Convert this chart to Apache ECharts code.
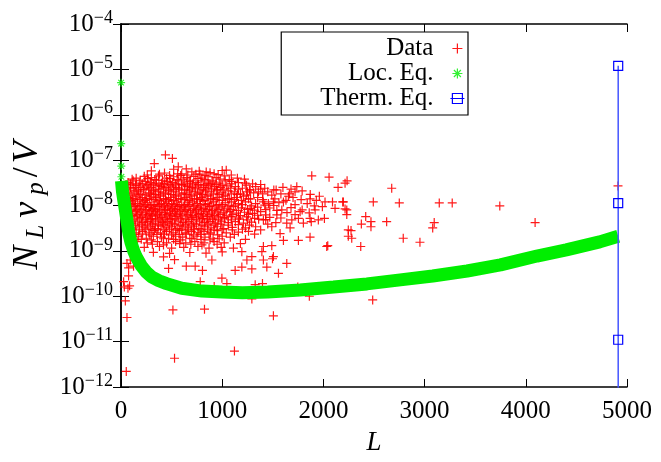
<!DOCTYPE html>
<html>
<head>
<meta charset="utf-8">
<script src="https://cdn.jsdelivr.net/npm/echarts@6/dist/echarts.min.js"></script>
<style>
html, body { margin: 0; padding: 0; background: #fff; }
#chart { width: 661px; height: 462px; }
</style>
</head>
<body>
<div id="chart"></div>
<script>
var xTicks = [0, 1000, 2000, 3000, 4000, 5000];
var yExponents = [-12, -11, -10, -9, -8, -7, -6, -5, -4];

// dense cloud of measured points, read row by row
var dataCore = [
	[300,5.8e-8],[430,5.2e-8],[520,6.3e-8],[600,5.0e-8],[700,5.5e-8],[780,4.9e-8],[880,5.3e-8],[960,4.8e-8],[1000,5.9e-8],
	[150,4.0e-8],[230,4.4e-8],[300,4.1e-8],[370,4.5e-8],[450,4.0e-8],[520,4.3e-8],[590,4.6e-8],[650,4.1e-8],[720,4.4e-8],[800,4.0e-8],[860,4.3e-8],[940,4.1e-8],[1020,4.5e-8],[1150,4.0e-8],
	[70,3.2e-8],[120,3.5e-8],[180,3.1e-8],[240,3.4e-8],[290,3.2e-8],[350,3.6e-8],[400,3.1e-8],[460,3.4e-8],[510,3.2e-8],[570,3.5e-8],[630,3.1e-8],[680,3.4e-8],[740,3.2e-8],[790,3.5e-8],[850,3.1e-8],[910,3.3e-8],[970,3.1e-8],[1030,3.5e-8],[1160,3.2e-8],[1300,3.0e-8],
	[45,2.7e-8],[95,2.5e-8],[145,2.8e-8],[195,2.5e-8],[250,2.7e-8],[300,2.5e-8],[345,2.8e-8],[395,2.6e-8],[445,2.5e-8],[495,2.7e-8],[545,2.5e-8],[600,2.8e-8],[655,2.6e-8],[705,2.5e-8],[760,2.7e-8],[815,2.5e-8],[865,2.8e-8],[925,2.6e-8],[985,2.5e-8],[1045,2.7e-8],[1130,2.6e-8],[1200,2.4e-8],[1330,2.6e-8],[1420,2.4e-8],[1600,2.5e-8],
	[35,2.1e-8],[80,1.9e-8],[130,2.1e-8],[175,2.0e-8],[225,2.2e-8],[275,1.9e-8],[320,2.1e-8],[370,2.0e-8],[420,1.9e-8],[470,2.1e-8],[520,2.0e-8],[575,2.2e-8],[625,1.9e-8],[675,2.1e-8],[730,2.0e-8],[780,1.9e-8],[835,2.1e-8],[890,2.0e-8],[945,2.2e-8],[1000,1.9e-8],[1060,2.1e-8],[1120,2.0e-8],[1180,1.8e-8],[1250,2.0e-8],[1310,1.9e-8],[1450,2.0e-8],[1580,1.8e-8],[1790,2.1e-8],
	[30,1.6e-8],[70,1.5e-8],[115,1.4e-8],[160,1.6e-8],[210,1.5e-8],[255,1.4e-8],[300,1.6e-8],[345,1.5e-8],[390,1.6e-8],[440,1.4e-8],[490,1.5e-8],[540,1.6e-8],[590,1.4e-8],[640,1.5e-8],[690,1.6e-8],[745,1.4e-8],[795,1.5e-8],[850,1.6e-8],[900,1.4e-8],[955,1.5e-8],[1010,1.6e-8],[1070,1.4e-8],[1140,1.5e-8],[1210,1.6e-8],[1280,1.4e-8],[1350,1.5e-8],[1520,1.4e-8],[1700,1.5e-8],[1960,1.6e-8],
	[30,1.2e-8],[75,1.1e-8],[120,1.25e-8],[165,1.1e-8],[215,1.2e-8],[260,1.15e-8],[305,1.05e-8],[355,1.2e-8],[400,1.1e-8],[450,1.25e-8],[500,1.1e-8],[550,1.2e-8],[600,1.05e-8],[655,1.15e-8],[705,1.2e-8],[755,1.1e-8],[810,1.25e-8],[860,1.1e-8],[915,1.2e-8],[970,1.05e-8],[1030,1.15e-8],[1090,1.2e-8],[1160,1.1e-8],[1230,1.2e-8],[1330,1.1e-8],[1560,1.15e-8],[1840,1.1e-8],[2090,1.2e-8],
	[35,9.5e-9],[85,8.8e-9],[130,9.6e-9],[180,8.7e-9],[225,9.4e-9],[275,9.0e-9],[320,8.6e-9],[365,9.5e-9],[415,8.8e-9],[460,9.3e-9],[510,8.6e-9],[560,9.4e-9],[615,8.9e-9],[665,9.6e-9],[715,8.7e-9],[770,9.2e-9],[820,8.6e-9],[875,9.5e-9],[930,8.8e-9],[990,9.3e-9],[1050,8.7e-9],[1110,9.4e-9],[1190,8.9e-9],[1350,9.2e-9],[1470,8.8e-9],[1680,9.0e-9],[1990,9.4e-9],
	[40,7.3e-9],[90,6.8e-9],[140,7.4e-9],[190,6.9e-9],[240,7.2e-9],[285,6.7e-9],[335,7.4e-9],[380,6.9e-9],[430,7.1e-9],[480,6.7e-9],[530,7.3e-9],[580,6.8e-9],[630,7.4e-9],[685,6.9e-9],[735,7.2e-9],[790,6.7e-9],[840,7.3e-9],[895,6.8e-9],[950,7.2e-9],[1010,6.9e-9],[1075,7.3e-9],[1140,6.8e-9],[1220,7.1e-9],[1300,6.7e-9],[1380,7.3e-9],[1640,7.0e-9],[1860,6.9e-9],
	[45,5.7e-9],[100,5.3e-9],[150,5.8e-9],[200,5.4e-9],[250,5.6e-9],[300,5.2e-9],[345,5.8e-9],[395,5.4e-9],[445,5.6e-9],[495,5.2e-9],[545,5.7e-9],[595,5.3e-9],[650,5.8e-9],[700,5.4e-9],[750,5.6e-9],[805,5.2e-9],[855,5.7e-9],[910,5.3e-9],[965,5.6e-9],[1025,5.4e-9],[1090,5.7e-9],[1160,5.3e-9],[1240,5.6e-9],[1320,5.2e-9],[1470,5.5e-9],[1580,5.3e-9],
	[55,4.4e-9],[110,4.1e-9],[165,4.5e-9],[215,4.2e-9],[265,4.4e-9],[315,4.1e-9],[365,4.5e-9],[410,4.2e-9],[460,4.4e-9],[510,4.1e-9],[565,4.5e-9],[615,4.2e-9],[670,4.4e-9],[720,4.1e-9],[775,4.5e-9],[825,4.2e-9],[880,4.4e-9],[935,4.1e-9],[995,4.5e-9],[1060,4.2e-9],[1130,4.4e-9],[1210,4.1e-9],[1290,4.3e-9],[1530,4.2e-9],[1880,4.4e-9],
	[65,3.4e-9],[125,3.2e-9],[180,3.5e-9],[235,3.2e-9],[290,3.4e-9],[340,3.1e-9],[395,3.5e-9],[445,3.2e-9],[500,3.4e-9],[555,3.1e-9],[610,3.5e-9],[660,3.2e-9],[715,3.4e-9],[770,3.1e-9],[830,3.5e-9],[890,3.2e-9],[950,3.4e-9],[1015,3.1e-9],[1100,3.3e-9],[1230,3.2e-9],[1330,3.4e-9],
	[80,2.7e-9],[150,2.5e-9],[215,2.7e-9],[275,2.5e-9],[330,2.8e-9],[390,2.5e-9],[450,2.7e-9],[515,2.5e-9],[575,2.8e-9],[635,2.5e-9],[695,2.7e-9],[760,2.5e-9],[820,2.7e-9],[885,2.5e-9],[950,2.8e-9],[1040,2.5e-9],[1160,2.6e-9],[1260,2.7e-9],
	[100,2.0e-9],[175,2.1e-9],[250,1.9e-9],[320,2.1e-9],[400,2.0e-9],[470,1.9e-9],[540,2.1e-9],[610,2.0e-9],[680,1.9e-9],[750,2.1e-9],[830,2.0e-9],[910,1.9e-9],[1000,2.1e-9],[1080,2.0e-9],
	[160,1.6e-9],[260,1.5e-9],[360,1.6e-9],[450,1.5e-9],[540,1.6e-9],[640,1.5e-9],[730,1.6e-9],[820,1.5e-9],[920,1.6e-9],[1020,1.5e-9],
	[230,1.2e-9],[380,1.25e-9],[500,1.15e-9],[620,1.2e-9],[760,1.25e-9],[870,1.15e-9],[990,1.2e-9],
	[320,9.3e-10],[480,8.8e-10],[680,9.2e-10],[840,8.9e-10],[1000,9.5e-10]
];

// in-between rows of the same cloud
var dataCoreMid = [
	[260,4.7e-8],[380,4.9e-8],[480,4.6e-8],[560,5.0e-8],[660,4.7e-8],[740,4.9e-8],[830,4.6e-8],[920,5.0e-8],[1090,4.7e-8],
	[110,3.8e-8],[190,3.6e-8],[265,3.9e-8],[335,3.7e-8],[410,3.6e-8],[485,3.9e-8],[555,3.7e-8],[620,3.8e-8],[685,3.6e-8],[760,3.9e-8],[830,3.7e-8],[900,3.6e-8],[980,3.8e-8],[1070,3.7e-8],[1220,3.8e-8],
	[50,2.9e-8],[95,3.0e-8],[150,2.8e-8],[210,3.0e-8],[265,2.9e-8],[320,3.0e-8],[375,2.8e-8],[430,3.0e-8],[485,2.9e-8],[540,3.0e-8],[600,2.9e-8],[655,2.8e-8],[710,3.0e-8],[765,2.9e-8],[820,2.8e-8],[880,3.0e-8],[940,2.9e-8],[1000,2.8e-8],[1090,3.0e-8],[1240,2.8e-8],[1380,2.9e-8],
	[60,2.3e-8],[120,2.4e-8],[170,2.2e-8],[225,2.3e-8],[275,2.4e-8],[325,2.2e-8],[375,2.3e-8],[420,2.4e-8],[470,2.2e-8],[520,2.3e-8],[570,2.4e-8],[630,2.2e-8],[680,2.3e-8],[735,2.4e-8],[790,2.2e-8],[840,2.3e-8],[895,2.4e-8],[955,2.2e-8],[1015,2.3e-8],[1080,2.4e-8],[1160,2.3e-8],[1270,2.2e-8],[1380,2.3e-8],[1510,2.2e-8],[1680,2.3e-8],
	[50,1.8e-8],[100,1.7e-8],[150,1.8e-8],[195,1.75e-8],[245,1.7e-8],[290,1.8e-8],[340,1.75e-8],[390,1.7e-8],[440,1.8e-8],[495,1.75e-8],[545,1.7e-8],[600,1.8e-8],[650,1.75e-8],[700,1.7e-8],[755,1.8e-8],[805,1.75e-8],[860,1.7e-8],[915,1.8e-8],[970,1.75e-8],[1030,1.7e-8],[1090,1.8e-8],[1150,1.75e-8],[1240,1.7e-8],[1400,1.8e-8],[1490,1.7e-8],[1870,1.75e-8],
	[50,1.35e-8],[95,1.3e-8],[140,1.4e-8],[185,1.35e-8],[235,1.3e-8],[280,1.4e-8],[325,1.35e-8],[375,1.3e-8],[420,1.4e-8],[470,1.35e-8],[520,1.3e-8],[570,1.4e-8],[625,1.35e-8],[675,1.3e-8],[725,1.4e-8],[780,1.35e-8],[830,1.3e-8],[885,1.4e-8],[940,1.35e-8],[1000,1.3e-8],[1055,1.4e-8],[1120,1.35e-8],[1190,1.3e-8],[1260,1.4e-8],[1400,1.35e-8],[1630,1.3e-8],[1780,1.35e-8],[1930,1.3e-8],
	[50,1.0e-8],[100,1.05e-8],[145,9.8e-9],[195,1.02e-8],[240,1.05e-8],[290,9.8e-9],[335,1.02e-8],[380,1.05e-8],[430,9.8e-9],[475,1.02e-8],[525,1.05e-8],[575,9.8e-9],[630,1.02e-8],[680,1.05e-8],[730,9.8e-9],[785,1.02e-8],[835,1.05e-8],[890,9.8e-9],[945,1.02e-8],[1005,1.05e-8],[1065,9.8e-9],[1130,1.02e-8],[1200,1.05e-8],[1290,9.8e-9],[1420,1.02e-8],[1510,1.0e-8],[1720,1.05e-8],[1910,9.8e-9],
	[55,8.1e-9],[105,7.8e-9],[155,8.2e-9],[205,7.9e-9],[250,8.1e-9],[300,7.8e-9],[345,8.2e-9],[395,7.9e-9],[440,8.1e-9],[490,7.8e-9],[540,8.2e-9],[590,7.9e-9],[640,8.1e-9],[690,7.8e-9],[745,8.2e-9],[795,7.9e-9],[850,8.1e-9],[905,7.8e-9],[960,8.2e-9],[1020,7.9e-9],[1085,8.1e-9],[1160,7.8e-9],[1250,8.2e-9],[1320,7.9e-9],[1430,8.1e-9],[1540,7.8e-9],[1790,8.0e-9],
	[60,6.3e-9],[115,6.0e-9],[165,6.4e-9],[215,6.1e-9],[265,6.3e-9],[310,6.0e-9],[360,6.4e-9],[405,6.1e-9],[455,6.3e-9],[505,6.0e-9],[555,6.4e-9],[605,6.1e-9],[660,6.3e-9],[710,6.0e-9],[765,6.4e-9],[815,6.1e-9],[870,6.3e-9],[925,6.0e-9],[980,6.4e-9],[1040,6.1e-9],[1105,6.3e-9],[1180,6.0e-9],[1260,6.4e-9],[1350,6.1e-9],[1430,6.2e-9],[1720,6.3e-9],
	[70,5.0e-9],[130,4.8e-9],[185,5.1e-9],[240,4.8e-9],[290,5.0e-9],[340,4.8e-9],[385,5.1e-9],[435,4.8e-9],[485,5.0e-9],[535,4.8e-9],[590,5.1e-9],[640,4.8e-9],[695,5.0e-9],[745,4.8e-9],[800,5.1e-9],[850,4.8e-9],[905,5.0e-9],[960,4.8e-9],[1020,5.1e-9],[1090,4.8e-9],[1170,5.0e-9],[1250,4.8e-9],[1360,5.0e-9],[1430,4.9e-9],
	[85,3.9e-9],[145,3.7e-9],[205,3.9e-9],[260,3.7e-9],[315,3.9e-9],[370,3.7e-9],[420,3.9e-9],[475,3.7e-9],[530,3.9e-9],[585,3.7e-9],[640,3.9e-9],[695,3.7e-9],[745,3.9e-9],[800,3.7e-9],[860,3.9e-9],[920,3.7e-9],[985,3.9e-9],[1060,3.7e-9],[1160,3.8e-9],[1270,3.7e-9],[1450,3.9e-9],
	[110,3.0e-9],[180,2.9e-9],[245,3.0e-9],[305,2.9e-9],[365,3.0e-9],[425,2.9e-9],[480,3.0e-9],[540,2.9e-9],[600,3.0e-9],[665,2.9e-9],[725,3.0e-9],[790,2.9e-9],[855,3.0e-9],[920,2.9e-9],[1000,3.0e-9],[1100,2.9e-9],[1200,3.0e-9],[1380,2.9e-9],
	[135,2.3e-9],[210,2.35e-9],[285,2.25e-9],[355,2.3e-9],[430,2.35e-9],[500,2.25e-9],[575,2.3e-9],[645,2.35e-9],[715,2.25e-9],[790,2.3e-9],[870,2.35e-9],[955,2.25e-9],[1120,2.3e-9],[1320,2.35e-9],
	[200,1.8e-9],[300,1.75e-9],[420,1.85e-9],[520,1.8e-9],[590,1.75e-9],[700,1.85e-9],[790,1.8e-9],[880,1.75e-9],[970,1.85e-9],[1230,1.8e-9],
	[310,1.4e-9],[420,1.35e-9],[580,1.45e-9],[690,1.4e-9],[800,1.35e-9],[950,1.4e-9],[1180,1.45e-9]
];

// sparser points around and outside the cloud
var dataOutliers = [
	[439,1.3e-7],[508,1.09e-7],[329,8.4e-8],[566,7.1e-8],[645,6.4e-8],[773,5.7e-8],[842,5.5e-8],[1040,6.0e-8],
	[1885,4.5e-8],[2056,4.2e-8],[2234,3.5e-8],[2145,2.5e-8],[1737,2.6e-8],[1720,2.0e-8],[1664,1.8e-8],[1533,2.2e-8],
	[1358,2.0e-8],[1276,2.2e-8],[1227,3.1e-8],[1096,3.4e-8],[2214,3.1e-8],[2675,2.4e-8],[2493,1.2e-8],[2750,1.14e-8],
	[3145,1.14e-8],[3273,1.14e-8],[2191,1.2e-8],[2214,8.4e-9],[2231,6.3e-9],[2418,5.7e-9],[2375,3.9e-9],[2470,4.4e-9],
	[2470,3.4e-9],[2625,4.4e-9],[3095,4.2e-9],[3080,3.2e-9],[2273,2.8e-9],[2280,1.9e-9],[2369,1.25e-9],[2789,1.9e-9],
	[2954,1.55e-9],[3743,9.8e-9],[4092,4.2e-9],[4911,2.7e-8],[2487,8.3e-11],[1861,1.0e-10],
	[59,3.4e-11],[52,2.2e-12],[513,5.0e-11],[529,4.3e-12],[825,5.2e-11],[1121,6.2e-12],[1506,3.7e-11],[1293,8.7e-11],
	[26,2.1e-10],[75,2.8e-10],[69,1.5e-10],[85,1.7e-10],[75,4.2e-10],[59,5.3e-10],[92,6.3e-10],[124,4.6e-10],[43,7.9e-11],[33,1.6e-10],
	[420,7.4e-10],[529,6.4e-10],[470,4.1e-10],[783,2.1e-10],[997,2.5e-10],[1046,1.9e-10],[921,1.65e-10],[1398,1.9e-10],
	[1326,1.8e-10],[1556,3.2e-10],[1638,5.3e-10],[1497,6.7e-10],[1128,3.7e-10],[1194,4.4e-10],[1293,4.0e-10],[1441,4.4e-10],
	[1244,6.3e-10],[1407,6.3e-10],[733,4.6e-10],[645,4.6e-10],[805,3.7e-10],[898,6.3e-10],[1747,1.6e-10],[2043,1.3e-9],[2246,2.1e-9],
	[2016,1.2e-8],[2197,1.2e-8],[2115,8.6e-9],[2231,8.0e-9],[1868,1.4e-8],[1770,7.3e-9],[1918,8.0e-9],[1868,5.2e-9],
	[1950,4.8e-9],[2010,5.2e-9],[1802,4.1e-9],[1868,2.0e-9],[1753,1.7e-9],[2033,1.25e-9],[2246,2.9e-9],[1605,1.7e-9],
	[1490,1.3e-9],[1407,1.25e-9],[1392,9.6e-10],[1506,7.5e-10],[1194,9.6e-10],[1293,7.5e-10],[1111,1.15e-9],[1671,3.2e-9],
	[1572,2.4e-9],[1490,3.4e-9],[1407,4.8e-9],[1540,6.2e-9],[1457,1.1e-8],[1605,1.2e-8],[1654,1.6e-8],[1506,1.2e-8],
	[1407,1.2e-8],[1276,8.6e-9],[1589,8.0e-9],[1753,5.2e-9],[1688,4.8e-9],[1638,4.1e-9]
];

var locEqStars = [[1,5.1e-6],[2,2.3e-7],[3,7.4e-8],[4,4.3e-8]];
var locEqCurve = [
	[5,3.5e-8],[15,2.0e-8],[30,1.2e-8],[45,7.5e-9],[60,4.5e-9],[80,2.3e-9],[100,1.5e-9],[125,1.0e-9],
	[150,7.4e-10],[200,4.7e-10],[250,3.4e-10],[300,2.7e-10],[375,2.2e-10],[450,1.9e-10],[600,1.5e-10],[800,1.3e-10],
	[1000,1.24e-10],[1200,1.2e-10],[1450,1.24e-10],[1770,1.38e-10],[2100,1.6e-10],[2430,1.87e-10],
	[2760,2.3e-10],[3080,2.8e-10],[3420,3.6e-10],[3750,4.9e-10],[4110,7.7e-10],[4400,1.05e-9],
	[4730,1.58e-9],[4913,2.1e-9]
];
var thermEq = [[4913,1.2e-5],[4913,1.13e-8],[4913,1.1e-11],[4913,1.05e-14]];

var serif = 'Liberation Serif';
var red = '#ff0000', green = '#00ee00', blue = '#0000ff';
var plusPath = 'path://M0,5L10,5M5,0L5,10';
var starPath = 'path://M0,5L10,5M5,0L5,10M1.5,1.5L8.5,8.5M1.5,8.5L8.5,1.5';
var squarePath = 'path://M0,0L10,0L10,10L0,10Z';

var axisCommon = {
	axisLine: {show: true, lineStyle: {color: '#000', width: 1.5}},
	axisTick: {show: true, inside: true, length: 8, lineStyle: {color: '#000', width: 1}},
	splitLine: {show: false},
	minorTick: {show: false}
};

var myChart = echarts.init(document.getElementById('chart'), null, {renderer: 'canvas'});
var option = {
	animation: false,
	backgroundColor: '#fff',
	grid: {left: 121, right: 34, top: 24, bottom: 75},
	legend: {
		orient: 'vertical',
		align: 'right',
		right: 193,
		top: 32,
		itemWidth: 38,
		itemHeight: 10,
		itemGap: 0,
		padding: [4, 3, 4, 39],
		borderColor: '#000',
		borderWidth: 1.2,
		backgroundColor: '#fff',
		textStyle: {fontFamily: serif, fontSize: 25, color: '#000'},
		data: [
			{name: 'Data', icon: plusPath, itemStyle: {color: 'transparent', borderColor: red, borderWidth: 1.2}},
			{name: 'Loc. Eq.', icon: starPath, itemStyle: {color: 'transparent', borderColor: green, borderWidth: 1.2}},
			{name: 'Therm. Eq.', icon: 'path://M2,0L12,0L12,10L2,10ZM0,5L14,5', itemStyle: {color: 'transparent', borderColor: blue, borderWidth: 1.2}, lineStyle: {width: 0, opacity: 0}}
		]
	},
	xAxis: [
		Object.assign({
			type: 'value',
			min: xTicks[0],
			max: xTicks[xTicks.length - 1],
			interval: xTicks[1] - xTicks[0],
			name: 'L',
			nameLocation: 'middle',
			nameGap: 42,
			nameTextStyle: {fontFamily: serif, fontSize: 27, fontStyle: 'italic', color: '#000'},
			axisLabel: {
				margin: 12, fontFamily: serif, fontSize: 25, color: '#000',
				formatter: function(v) { return String(v); }
			}
		}, axisCommon),
		Object.assign({
			type: 'value',
			position: 'top',
			min: xTicks[0],
			max: xTicks[xTicks.length - 1],
			interval: xTicks[1] - xTicks[0],
			axisLabel: {show: false}
		}, axisCommon)
	],
	yAxis: [
		Object.assign({
			type: 'log',
			logBase: 10,
			min: Math.pow(10, yExponents[0]),
			max: Math.pow(10, yExponents[yExponents.length - 1]),
			splitNumber: yExponents.length - 1,
			name: '{i|N}{sub|L}{i|v}{sub|p}{n|/}{i|V}',
			nameLocation: 'middle',
			nameRotate: 90,
			nameGap: 64,
			nameTextStyle: {
				color: '#000',
				rich: {
					i: {fontFamily: serif, fontSize: 36, fontStyle: 'italic', lineHeight: 42, padding: [0, 3], color: '#000'},
					n: {fontFamily: serif, fontSize: 36, lineHeight: 42, padding: [0, 1], color: '#000'},
					sub: {fontFamily: serif, fontSize: 25, fontStyle: 'italic', lineHeight: 20, padding: [0, 4], verticalAlign: 'bottom', color: '#000'}
				}
			},
			axisLabel: {
				margin: 8,
				formatter: function(v) {
					var e = Math.round(Math.log(v) / Math.LN10);
					return '{b|10}{s|\u2212' + (-e) + '}';
				},
				rich: {
					b: {fontFamily: serif, fontSize: 25, lineHeight: 30, color: '#000'},
					s: {fontFamily: serif, fontSize: 18, lineHeight: 14, verticalAlign: 'top', color: '#000'}
				}
			}
		}, axisCommon),
		Object.assign({
			type: 'log',
			logBase: 10,
			position: 'right',
			min: Math.pow(10, yExponents[0]),
			max: Math.pow(10, yExponents[yExponents.length - 1]),
			splitNumber: yExponents.length - 1,
			axisLabel: {show: false}
		}, axisCommon)
	],
	series: [
		{
			name: 'Data',
			type: 'scatter',
			data: dataCore.concat(dataCoreMid, dataOutliers),
			symbol: plusPath,
			symbolSize: 9,
			itemStyle: {color: 'transparent', borderColor: red, borderWidth: 1.2, opacity: 0.9},
			silent: true,
			z: 2
		},
		{
			name: 'Loc. Eq. band',
			type: 'line',
			data: locEqCurve,
			showSymbol: false,
			symbol: 'none',
			lineStyle: {type: 'solid', color: green, width: 13, cap: 'butt', join: 'bevel'},
			silent: true,
			z: 3
		},
		{
			name: 'Loc. Eq.',
			type: 'scatter',
			data: locEqStars,
			symbol: starPath,
			symbolSize: 8,
			itemStyle: {color: 'transparent', borderColor: green, borderWidth: 1.2},
			silent: true,
			z: 3
		},
		{
			name: 'Therm. Eq.',
			type: 'line',
			data: thermEq,
			symbol: squarePath,
			symbolSize: 9,
			showAllSymbol: true,
			clip: true,
			lineStyle: {color: '#4455ff', width: 1.5},
			itemStyle: {color: 'transparent', borderColor: blue, borderWidth: 1.2},
			silent: true,
			z: 4
		}
	]
};
myChart.setOption(option);
</script>
</body>
</html>
